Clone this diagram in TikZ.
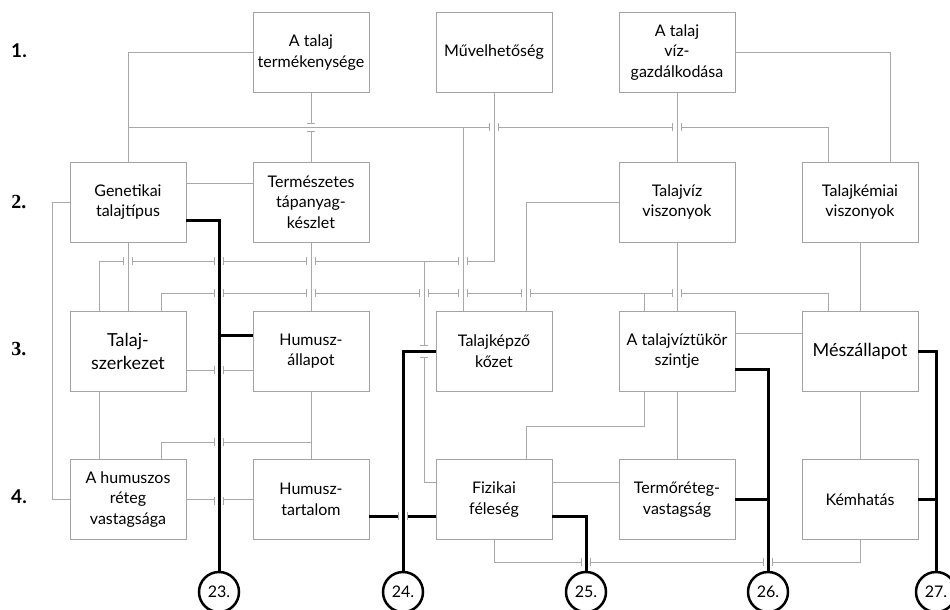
\documentclass[tikz,border=0pt]{standalone}
\usepackage{fontspec}
\setmainfont{Lato}
\newfontfamily\rowserif{Liberation Serif}
\definecolor{boxgray}{HTML}{A3A3A3}
\definecolor{linegray}{HTML}{A8A8A8}
\newcommand\mkhgap[4]{% x, y, half gap, style of the passing (vertical) line
  \fill[white] (#1-#3,#2-1.9) rectangle (#1+#3,#2+1.9);
  \draw[#4] (#1,#2-3) -- (#1,#2+3);
  \draw[tick] (#1-#3,#2-4) -- (#1-#3,#2+4) (#1+#3,#2-4) -- (#1+#3,#2+4);}
\newcommand\mkvgap[4]{% x, y, half gap, style of the passing (horizontal) line
  \fill[white] (#1-1.9,#2-#3) rectangle (#1+1.9,#2+#3);
  \draw[#4] (#1-3,#2) -- (#1+3,#2);
  \draw[tick] (#1-4,#2-#3) -- (#1+4,#2-#3) (#1-4,#2+#3) -- (#1+4,#2+#3);}
\begin{document}
\begin{tikzpicture}[x=1pt,y=-1pt,
  box/.style={draw=boxgray, line width=0.9pt, fill=white, minimum width=116pt, minimum height=80pt,
    inner sep=1pt, align=center, text=black, font=\fontsize{16}{20.5}\selectfont},
  bigbox/.style={box, font=\fontsize{18}{23}\selectfont},
  conn/.style={draw=linegray, line width=1pt},
  hot/.style={draw=black, line width=3pt},
  tick/.style={draw=linegray, line width=0.9pt},
  numcirc/.style={circle, draw=black, line width=2.5pt, fill=white, minimum size=40pt, inner sep=0pt,
    font=\fontsize{16}{16}\selectfont},
  rowlab/.style={font=\fontsize{19}{19}\selectfont\bfseries, inner sep=0pt}]
\fill[white] (0,0) rectangle (950,610);
\useasboundingbox (0,0) rectangle (950,610);

% row labels
\node[rowlab] (l1) at (19,51) {1.};
\node[rowlab, font=\fontsize{20}{20}\selectfont\rowserif\bfseries] (l2) at (19,202) {2.};
\node[rowlab, font=\fontsize{20}{20}\selectfont\rowserif\bfseries] (l3) at (19,349) {3.};
\node[rowlab] (l4) at (19,497) {4.};

% boxes
\node[box] (tt) at (311,52.5) {A talaj\\termékenysége};
\node[box] (mu) at (494,52.5) {Művelhetőség};
\node[box] (vg) at (677,52.5) {A talaj\\víz-\\gazdálkodása};
\node[box] (gen) at (128,202) {Genetikai\\talajtípus};
\node[box] (ter) at (311,202) {Természetes\\tápanyag-\\készlet};
\node[box] (tv) at (677,202) {Talajvíz\\viszonyok};
\node[box] (tk) at (860,202) {Talajkémiai\\viszonyok};
\node[bigbox] (sz) at (128,351) {Talaj-\\szerkezet};
\node[box] (ha) at (311,351) {Humusz-\\állapot};
\node[box] (kk) at (494,351) {Talajképző\\kőzet};
\node[box] (vt) at (677,351) {A talajvíztükör\\szintje};
\node[bigbox] (me) at (860,351) {Mészállapot};
\node[box] (hr) at (128,499.5) {A humuszos\\réteg\\vastagsága};
\node[box] (ht) at (311,499.5) {Humusz-\\tartalom};
\node[box] (fi) at (494,499.5) {Fizikai\\féleség};
\node[box] (tr) at (677,499.5) {Termőréteg-\\vastagság};
\node[box] (ke) at (860,499.5) {Kémhatás};

% numbered circles
\node[numcirc] (c23) at (219,592) {23.};
\node[numcirc] (c24) at (403,592) {24.};
\node[numcirc] (c25) at (586,592) {25.};
\node[numcirc] (c26) at (768,592) {26.};
\node[numcirc] (c27) at (936,592) {27.};

% helper coordinates
\coordinate (yA) at (0,127);
\coordinate (yB) at (0,261);
\coordinate (yC) at (0,293);
\coordinate (yD) at (0,442);
\coordinate (yE) at (0,426);
\coordinate (yF) at (0,562);
\coordinate (xN) at (52,0);
\coordinate (xA) at (99,0);
\coordinate (xB) at (161,0);
\coordinate (xE) at (424,0);
\coordinate (xF) at (463,0);
\coordinate (xG) at (526,0);
\coordinate (xI) at (644,0);
\coordinate (xK) at (828,0);
\coordinate (xL) at (890,0);
\coordinate (genE1) at ([yshift=19pt]gen.east);
\coordinate (genE2) at ([yshift=-18pt]gen.east);
\coordinate (haW1) at ([yshift=16pt]ha.west);
\coordinate (haW2) at ([yshift=-19pt]ha.west);
\coordinate (szE) at ([yshift=-19pt]sz.east);
\coordinate (vtE1) at ([yshift=18pt]vt.east);
\coordinate (vtE2) at ([yshift=-18pt]vt.east);
\coordinate (meW) at ([yshift=18pt]me.west);
\coordinate (htE) at ([yshift=-16.5pt]ht.east);
\coordinate (fiW1) at ([yshift=17.5pt]fi.west);
\coordinate (fiW2) at ([yshift=-16.5pt]fi.west);
\coordinate (fiE1) at ([yshift=17.5pt]fi.east);
\coordinate (fiE2) at ([yshift=-16.5pt]fi.east);
\coordinate (trW) at ([yshift=17.5pt]tr.west);

% gray connectors
\draw[conn] (tt.west) -| (gen.north);
\draw[conn] (gen.north |- yA) -- (xK |- yA) -- (xK |- tk.north);
\draw[conn] (xF |- yA) -- (xF |- kk.north);
\draw[conn] (tt.south) -- (ter.north);
\draw[conn] (mu.south) -- (mu.south |- yB) -- (xA |- yB) -- (xA |- sz.north);
\draw[conn] (xE |- yB) -- (xE |- fiW1) -- (fiW1);
\draw[conn] (vg.south) -- (tv.north);
\draw[conn] (vg.east) -| (xL |- tk.north);
\draw[conn] (genE1) -- (genE1 -| ter.west);
\draw[conn] (gen.west) -| (xN |- hr.west) -- (hr.west);
\draw[conn] (gen.south) -- (sz.north);
\draw[conn] (ter.south) -- (ha.north);
\draw[conn] (xB |- sz.north) -- (xB |- yC) -- (xK |- yC) -- (xK |- me.north);
\draw[conn] (xI |- yC) -- (xI |- vt.north);
\draw[conn] (tv.west) -| (xG |- kk.north);
\draw[conn] (tv.south) -- (vt.north);
\draw[conn] (tk.south) -- (me.north);
\draw[conn] (szE) -- (haW2);
\draw[conn] (xA |- sz.south) -- (xA |- hr.north);
\draw[conn] (xB |- hr.north) -- (xB |- yD) -- (ha.south |- yD);
\draw[conn] (ha.south) -- (ht.north);
\draw[conn] (hr.east) -- (ht.west);
\draw[conn] (xI |- vt.south) -- (xI |- yE) -- (xG |- yE) -- (xG |- fi.north);
\draw[conn] (vt.south) -- (tr.north);
\draw[conn] (vtE1) -- (meW);
\draw[conn] (me.south) -- (ke.north);
\draw[conn] (fiE1) -- (trW);
\draw[conn] (fi.south) -- (fi.south |- yF) -- (ke.south |- yF) -- (ke.south);

% black connectors
\draw[hot] (genE2) -| (c23.north);
\draw[hot] (haW1) -- (haW1 -| c23.north);
\draw[hot] (kk.west) -| (c24.north);
\draw[hot] (htE) -- (fiW2);
\draw[hot] (fiE2) -| (c25.north);
\draw[hot] (vtE2) -| (c26.north);
\draw[hot] (tr.east) -- (tr.east -| c26.north);
\draw[hot] (me.east) -| (c27.north);
\draw[hot] (ke.east) -- (ke.east -| c27.north);

% crossings
\mkvgap{311}{127}{4}{conn}
\mkvgap{424}{351}{6}{hot}
\mkhgap{494}{127}{4.5}{conn}
\mkhgap{677}{127}{4.5}{conn}
\mkhgap{128}{261}{4.5}{conn}
\mkhgap{219}{261}{4.5}{hot}
\mkhgap{311}{261}{4.5}{conn}
\mkhgap{463}{261}{4.5}{conn}
\mkhgap{219}{293}{4.5}{hot}
\mkhgap{311}{293}{4.5}{conn}
\mkhgap{424}{293}{4.5}{conn}
\mkhgap{463}{293}{4.5}{conn}
\mkhgap{526}{293}{4.5}{conn}
\mkhgap{677}{293}{4.5}{conn}
\mkhgap{219}{370}{4.5}{hot}
\mkhgap{219}{442}{4.5}{hot}
\mkhgap{219}{501}{4.5}{hot}
\mkhgap{403}{516}{4.5}{hot}
\mkhgap{586}{562}{4.5}{hot}
\mkhgap{768}{562}{4.5}{hot}
\end{tikzpicture}
\end{document}
